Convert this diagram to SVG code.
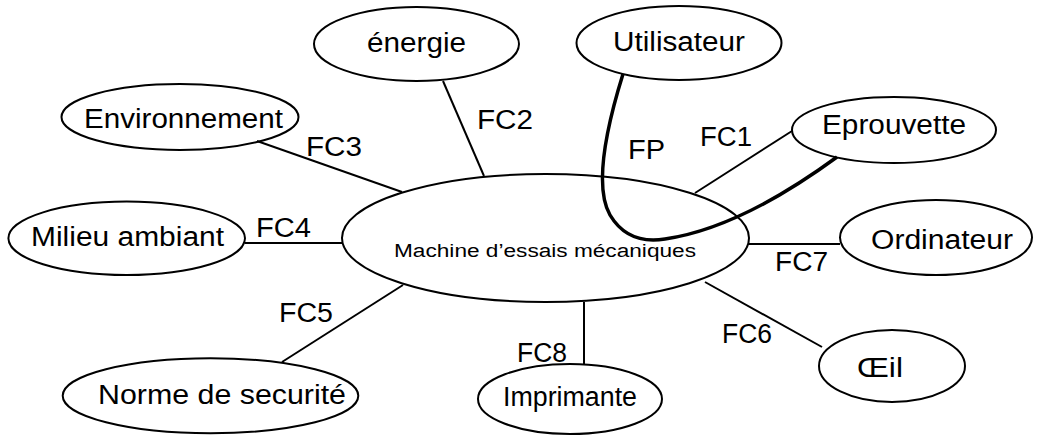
<svg xmlns="http://www.w3.org/2000/svg" width="1037" height="437" viewBox="0 0 1037 437">
<style>
.n{fill:#fff;stroke:#000;stroke-width:2}
.t{font-family:"Liberation Sans",Arial,sans-serif;font-size:27px;fill:#000}
.s{font-family:"Liberation Sans",Arial,sans-serif;font-size:18px;fill:#000}
.c{stroke:#000;stroke-width:2;fill:none}
.fp{stroke:#000;stroke-width:3.5;fill:none}
</style>
<rect width="1037" height="437" fill="#fff"/>
<g id="machine"><ellipse class="n" cx="545.5" cy="238" rx="203.5" ry="64"/><text class="s" x="394" y="257" textLength="302" lengthAdjust="spacingAndGlyphs">Machine d’essais mécaniques</text></g>
<g id="energie"><ellipse class="n" cx="416.5" cy="44" rx="102.5" ry="37"/><text class="t" x="367" y="52" textLength="99" lengthAdjust="spacingAndGlyphs">énergie</text></g>
<g id="utilisateur"><ellipse class="n" cx="679" cy="43" rx="102.5" ry="37"/><text class="t" x="613" y="51" textLength="132" lengthAdjust="spacingAndGlyphs">Utilisateur</text></g>
<g id="environnement"><ellipse class="n" cx="180" cy="117" rx="118.5" ry="33"/><text class="t" x="84" y="128" textLength="199" lengthAdjust="spacingAndGlyphs">Environnement</text></g>
<g id="eprouvette"><ellipse class="n" cx="894" cy="130" rx="102" ry="33"/><text class="t" x="822" y="134" textLength="144" lengthAdjust="spacingAndGlyphs">Eprouvette</text></g>
<g id="milieu"><ellipse class="n" cx="126.7" cy="238.3" rx="118.3" ry="36.7"/><text class="t" x="31" y="246" textLength="193" lengthAdjust="spacingAndGlyphs">Milieu ambiant</text></g>
<g id="ordinateur"><ellipse class="n" cx="936" cy="237.5" rx="96" ry="37.5"/><text class="t" x="871" y="249" textLength="142" lengthAdjust="spacingAndGlyphs">Ordinateur</text></g>
<g id="norme"><ellipse class="n" cx="210.5" cy="395.8" rx="147.8" ry="37.5"/><text class="t" x="98" y="404" textLength="248" lengthAdjust="spacingAndGlyphs">Norme de securité</text></g>
<g id="imprimante"><ellipse class="n" cx="570" cy="399" rx="92" ry="35"/><text class="t" x="503" y="406" textLength="134" lengthAdjust="spacingAndGlyphs">Imprimante</text></g>
<g id="oeil"><ellipse class="n" cx="892" cy="366" rx="73" ry="36"/><text class="t" x="857" y="377" textLength="46" lengthAdjust="spacingAndGlyphs">Œil</text></g>
<g id="connectors">
<line class="c" x1="443" y1="81" x2="484" y2="176"/>
<line class="c" x1="257" y1="141" x2="402" y2="192"/>
<line class="c" x1="792" y1="131" x2="695" y2="193"/>
<line class="c" x1="245" y1="243" x2="342" y2="243"/>
<line class="c" x1="748" y1="244" x2="840" y2="244"/>
<line class="c" x1="705" y1="282" x2="822" y2="347"/>
<line class="c" x1="584" y1="302" x2="584" y2="365"/>
<line class="c" x1="403" y1="285" x2="282" y2="362"/>
<path class="fp" d="M623,74 Q590,180 610,215 Q628,245 665,239 Q740,228 837,157"/>
<text class="t" x="477" y="129" textLength="56" lengthAdjust="spacingAndGlyphs">FC2</text>
<text class="t" x="306" y="156" textLength="56" lengthAdjust="spacingAndGlyphs">FC3</text>
<text class="t" x="628" y="159" textLength="37" lengthAdjust="spacingAndGlyphs">FP</text>
<text class="t" x="700" y="146" textLength="52" lengthAdjust="spacingAndGlyphs">FC1</text>
<text class="t" x="256" y="237" textLength="55" lengthAdjust="spacingAndGlyphs">FC4</text>
<text class="t" x="775" y="271" textLength="53" lengthAdjust="spacingAndGlyphs">FC7</text>
<text class="t" x="279" y="322" textLength="54" lengthAdjust="spacingAndGlyphs">FC5</text>
<text class="t" x="517" y="362" textLength="50" lengthAdjust="spacingAndGlyphs">FC8</text>
<text class="t" x="722" y="343" textLength="50" lengthAdjust="spacingAndGlyphs">FC6</text>
</g>
</svg>
